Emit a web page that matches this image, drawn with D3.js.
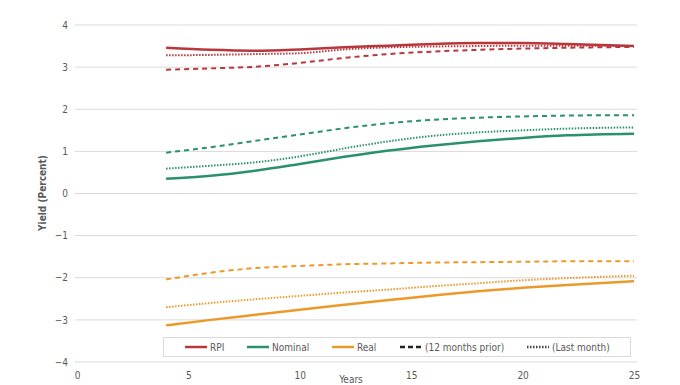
<!DOCTYPE html>
<html><head><meta charset="utf-8">
<script src="https://cdn.jsdelivr.net/npm/d3@7"></script>
<style>body{margin:0;background:#fff}svg{display:block}text{font-family:"Liberation Sans Narrow","DejaVu Sans Condensed","Open Sans",sans-serif;fill:#595959}</style>
</head><body><svg id="c" width="680" height="385"></svg>
<script>
const years = [4, 6, 8, 10, 12, 14, 16, 18, 20, 22, 25];
const rpi        = [3.46, 3.41, 3.39, 3.42, 3.47, 3.51, 3.55, 3.57, 3.57, 3.55, 3.50];
const rpiPrior   = [2.94, 2.97, 3.01, 3.10, 3.22, 3.31, 3.37, 3.41, 3.44, 3.46, 3.48];
const rpiLast    = [3.28, 3.29, 3.31, 3.33, 3.42, 3.47, 3.49, 3.50, 3.51, 3.51, 3.50];
const nom        = [0.35, 0.42, 0.54, 0.70, 0.87, 1.02, 1.14, 1.24, 1.32, 1.38, 1.42];
const nomPrior   = [0.97, 1.10, 1.25, 1.40, 1.55, 1.67, 1.75, 1.80, 1.83, 1.85, 1.86];
const nomLast    = [0.59, 0.66, 0.74, 0.88, 1.07, 1.24, 1.37, 1.45, 1.50, 1.54, 1.57];
const real       = [-3.13, -3.00, -2.88, -2.76, -2.64, -2.53, -2.42, -2.32, -2.24, -2.17, -2.08];
const realPrior  = [-2.04, -1.88, -1.77, -1.72, -1.68, -1.66, -1.64, -1.63, -1.62, -1.61, -1.61];
const realLast   = [-2.70, -2.60, -2.51, -2.43, -2.35, -2.28, -2.20, -2.13, -2.06, -2.01, -1.95];
const xTicks = [0, 5, 10, 15, 20, 25];
const yTicks = [4, 3, 2, 1, 0, -1, -2, -3, -4];
const legendLabels = ["RPI", "Nominal", "Real", "(12 months prior)", "(Last month)"];

const colors = {rpi:"#b8373d", nom:"#2a9070", real:"#eb9a2a"};
const svg = d3.select("#c");
const x = d3.scaleLinear().domain([0,25]).range([77,634]);
const y = d3.scaleLinear().domain([-4,4]).range([362,25]);

// gridlines
svg.append("g").selectAll("line").data(yTicks).join("line")
  .attr("x1",75).attr("x2",637).attr("y1",d=>y(d)).attr("y2",d=>y(d))
  .attr("stroke","#d9d9d9").attr("stroke-width",1);

// y axis labels
const yAxis = d3.axisLeft(y).tickValues(yTicks).tickSize(0).tickPadding(0).tickFormat(d3.format("d"));
const gy = svg.append("g").attr("transform","translate(68,0)").call(yAxis);
gy.select(".domain").remove();
gy.selectAll("text").attr("font-size",10).attr("fill","#595959");

const xAxis = d3.axisBottom(x).tickValues(xTicks).tickSize(0).tickPadding(0).tickFormat(d3.format("d"));
const gx = svg.append("g").attr("transform","translate(0,372)").call(xAxis);
gx.select(".domain").remove();
gx.selectAll("text").attr("font-size",10).attr("fill","#595959");

svg.append("text").attr("x",351).attr("y",383).attr("text-anchor","middle").attr("font-size",10).text("Years");
svg.append("text").attr("transform","translate(46,193) rotate(-90)").attr("text-anchor","middle")
  .attr("font-size",10).attr("font-weight","bold").text("Yield (Percent)");

const line = d3.line().x((d,i)=>x(years[i])).y(d=>y(d)).curve(d3.curveMonotoneX);
const series = [
  [rpiPrior, colors.rpi, "5,4", 2],
  [rpiLast, colors.rpi, "1.5,1.5", 2],
  [rpi, colors.rpi, null, 2.5],
  [nomPrior, colors.nom, "5,4", 2],
  [nomLast, colors.nom, "1.5,1.5", 2],
  [nom, colors.nom, null, 2.5],
  [realPrior, colors.real, "5,4", 2],
  [realLast, colors.real, "1.5,1.5", 2],
  [real, colors.real, null, 2.5]
];
svg.append("g").selectAll("path").data(series).join("path")
  .attr("d",d=>line(d[0])).attr("fill","none").attr("stroke",d=>d[1])
  .attr("stroke-width",d=>d[3]).attr("stroke-dasharray",d=>d[2]);

// legend
const lg = svg.append("g");
lg.append("rect").attr("x",163.5).attr("y",337.5).attr("width",467).attr("height",19)
  .attr("fill","#fff").attr("stroke","#d9d9d9");
const items = [
  {lx:185, c:colors.rpi, dash:null},
  {lx:247, c:colors.nom, dash:null},
  {lx:332, c:colors.real, dash:null},
  {lx:400, c:"#222", dash:"5,3"},
  {lx:527, c:"#444", dash:"1.5,1.5"}
];
items.forEach((it,i)=>{
  lg.append("line").attr("x1",it.lx).attr("x2",it.lx+22).attr("y1",347).attr("y2",347)
    .attr("stroke",it.c).attr("stroke-width",2.5).attr("stroke-dasharray",it.dash);
  lg.append("text").attr("x",it.lx+25).attr("y",350.5).attr("font-size",10).text(legendLabels[i]);
});
</script></body></html>
